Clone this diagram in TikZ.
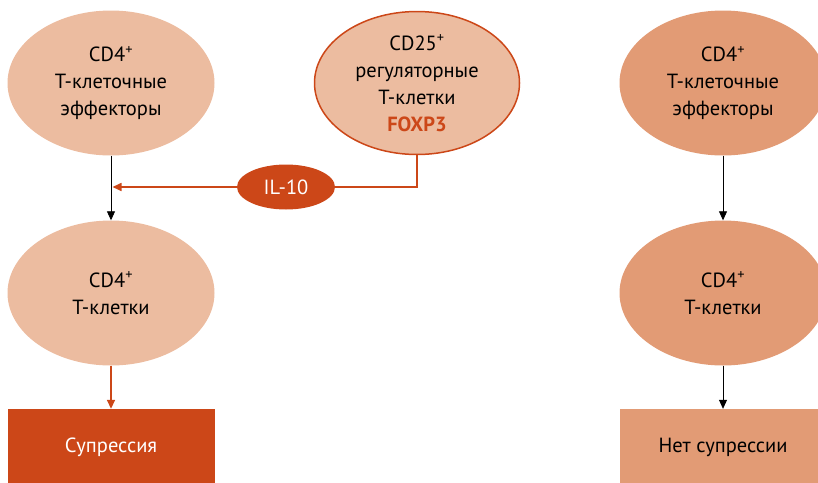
\documentclass[tikz,border=0pt]{standalone}
\usepackage{fontspec}
\setmainfont{PT Sans}
\usetikzlibrary{shapes.geometric,arrows.meta,positioning,calc}
\definecolor{cellPeach}{RGB}{236,188,160}
\definecolor{cellOrange}{RGB}{226,155,117}
\definecolor{suppRed}{RGB}{204,71,24}

\begin{document}
\begin{tikzpicture}[x=1pt,y=-1pt,
  cell/.style={ellipse,fill=cellPeach,minimum width=207pt,minimum height=145pt,
               inner sep=0pt,align=center,font=\fontsize{20.5}{27}\selectfont},
  cellB/.style={cell,fill=cellOrange},
  treg/.style={cell,draw=suppRed,line width=1.5pt,minimum width=205pt,minimum height=143pt},
  cyto/.style={ellipse,fill=suppRed,minimum width=98pt,minimum height=45pt,inner sep=0pt,
               text=white,font=\fontsize{20.5}{22}\selectfont},
  res/.style={rectangle,fill=suppRed,minimum width=207pt,minimum height=76pt,
              inner sep=0pt,font=\fontsize{20.5}{22}\selectfont,text=white},
  resB/.style={res,fill=cellOrange,text=black},
  arr/.style={-{Triangle[length=9pt,width=8pt]},line width=0.8pt},
  rarr/.style={-{Triangle[length=9pt,width=8pt]},line width=1.6pt,draw=suppRed}
]
  \clip (0,0) rectangle (818,482);
  \useasboundingbox (0,0) rectangle (818,482);

  % left branch: with regulatory cells
  \node[cell](eff) at (111,83)  {CD4\textsuperscript{+}\\Т-клеточные\\эффекторы};
  \node[cell](tc)  at (111,293) {CD4\textsuperscript{+}\\Т-клетки};
  \node[res] (sup) at (111,447) {Супрессия};
  \node[treg](reg) at (417,83)  {CD25\textsuperscript{+}\\регуляторные\\Т-клетки\\
                                 \textcolor{suppRed}{\bfseries FOXP3}};
  \node[cyto](il)  at (286,187) {IL-10};
  \coordinate (join) at ($(eff.south |- il)+(1.5,0)$);

  % right branch: without
  \node[cellB](effB) at (723,83)  {CD4\textsuperscript{+}\\Т-клеточные\\эффекторы};
  \node[cellB](tcB)  at (723,293) {CD4\textsuperscript{+}\\Т-клетки};
  \node[resB] (nos)  at (723,447) {Нет супрессии};

  \draw[arr](eff)--(tc);
  \draw[rarr](tc)--(sup);
  \draw[line width=1.6pt,draw=suppRed](reg.south)|-(il.east);
  \draw[rarr](il.west)--(join);
  \draw[arr](effB)--(tcB);
  \draw[arr](tcB)--(nos);
\end{tikzpicture}
\end{document}
